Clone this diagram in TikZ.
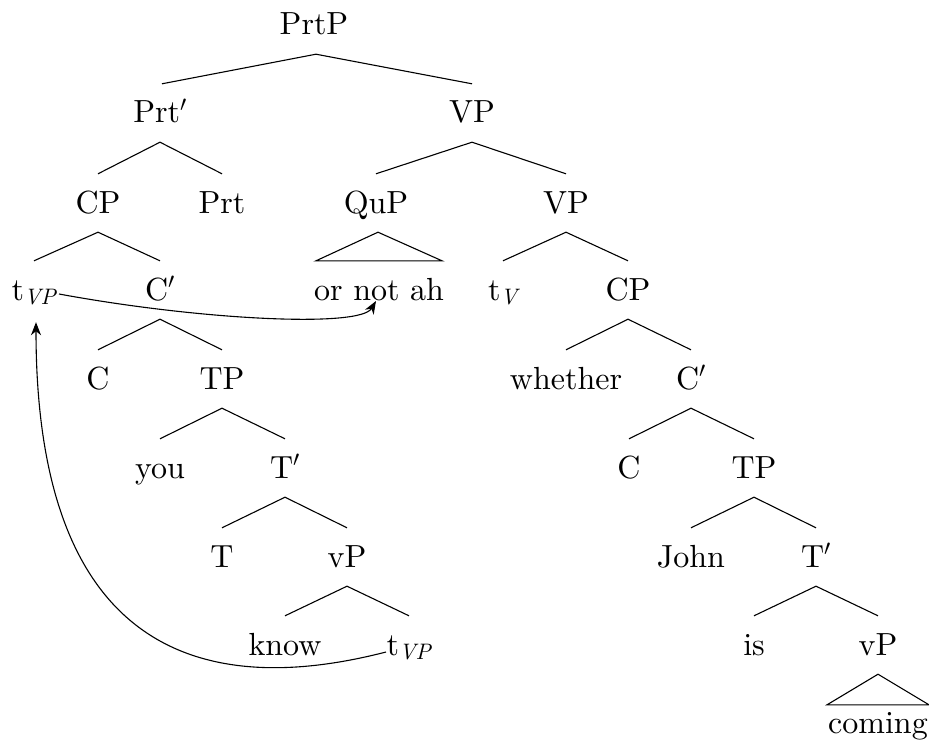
\RequirePackage{fix-cm}
\documentclass[tikz,border=0pt]{standalone}
\usepackage{fontspec}
\setmainfont{lmroman10-regular.otf}[ItalicFont=lmroman10-italic.otf]
\usetikzlibrary{arrows.meta}
\begin{document}
\begin{tikzpicture}[x=1pt,y=-1pt,
  font=\fontsize{32}{37}\selectfont,
  tn/.style={inner xsep=0pt,inner ysep=19pt,text height=20pt,text depth=0pt,anchor=base},
  edge/.style={line width=1.1pt},
  mv/.style={line width=1.1pt,-{Stealth[length=13pt,width=10pt,inset=4pt]}}]
\useasboundingbox (0,0) rectangle (929,749);
% nodes
\node[tn] (prtp) at (314,35) {PrtP};
\node[tn] (prtbar) at (160,123) {Prt$'$};
\node[tn] (vpa) at (472,123) {VP};
\node[tn] (cpa) at (98,213) {CP};
\node[tn] (prt) at (222,213) {Prt};
\node[tn] (qup) at (376,213) {QuP};
\node[tn] (vpb) at (566,213) {VP};
\node[tn] (upt) at (34,300) {t\textsubscript{\itshape VP}};
\node[tn] (cbara) at (160,300) {C$'$};
\node[tn] (ornot) at (379,300) {or not ah};
\node[tn] (tv) at (503,300) {t\textsubscript{\itshape V}};
\node[tn] (cpb) at (628,300) {CP};
\node[tn] (ca) at (98,389) {C};
\node[tn] (tpa) at (222,389) {TP};
\node[tn] (whether) at (566,389) {whether};
\node[tn] (cbarb) at (691,389) {C$'$};
\node[tn] (you) at (160,478) {you};
\node[tn] (tbara) at (285,478) {T$'$};
\node[tn] (cb) at (629,478) {C};
\node[tn] (tpb) at (754,478) {TP};
\node[tn] (t) at (222,567) {T};
\node[tn] (vpc) at (347,567) {vP};
\node[tn] (john) at (691,567) {John};
\node[tn] (tbarb) at (816,567) {T$'$};
\node[tn] (know) at (285,655) {know};
\node[tn] (lowt) at (409,655) {t\textsubscript{\itshape VP}};
\node[tn] (is) at (754,655) {is};
\node[tn] (vpd) at (878,655) {vP};
\node[tn,inner ysep=8pt] (coming) at (878,733) {coming};
% branches
\draw[edge] ([xshift=2pt]prtbar.north) -- ([xshift=2pt]prtp.south) -- (vpa.north);
\draw[edge] (cpa.north) -- (prtbar.south) -- (prt.north);
\draw[edge] (qup.north) -- (vpa.south) -- (vpb.north);
\draw[edge] (upt.north) -- (cpa.south) -- (cbara.north);
\draw[edge] ([xshift=2pt]qup.south) -- ([xshift=-63pt]ornot.north) -- ([xshift=63pt]ornot.north) -- cycle;
\draw[edge] (tv.north) -- (vpb.south) -- (cpb.north);
\draw[edge] (ca.north) -- (cbara.south) -- (tpa.north);
\draw[edge] (whether.north) -- (cpb.south) -- (cbarb.north);
\draw[edge] (you.north) -- (tpa.south) -- (tbara.north);
\draw[edge] (cb.north) -- (cbarb.south) -- (tpb.north);
\draw[edge] (t.north) -- (tbara.south) -- (vpc.north);
\draw[edge] (john.north) -- (tpb.south) -- (tbarb.north);
\draw[edge] (know.north) -- (vpc.south) -- (lowt.north);
\draw[edge] (is.north) -- (tbarb.south) -- (vpd.north);
\draw[edge] (vpd.south) -- ([xshift=-51pt]coming.north) -- ([xshift=51pt]coming.north) -- cycle;
% movement arrows
\draw[mv] ([xshift=-23pt,yshift=3pt]lowt.base) .. controls (200,700) and (36,650) .. ([xshift=2pt,yshift=-3pt]upt.south);
\draw[mv] ([xshift=25pt,yshift=6pt]upt.base) .. controls (200,320) and (360,328) .. ([xshift=-3pt,yshift=-1pt]ornot.base);
\end{tikzpicture}
\end{document}
